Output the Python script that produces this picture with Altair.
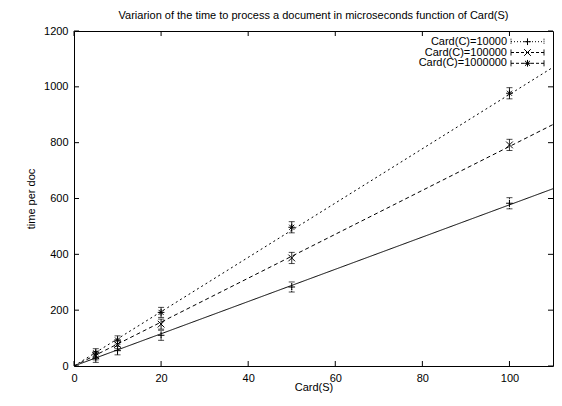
import altair as alt
import pandas as pd

# ---- data ----
series = ["Card(C)=10000", "Card(C)=100000", "Card(C)=1000000"]
card_s = [5, 10, 20, 50, 100]
time_10000 = [28, 55, 110, 283, 583]
time_100000 = [37, 77, 150, 387, 792]
time_1000000 = [47, 93, 192, 497, 977]
err_10000 = [15, 15, 18, 18, 20]
err_100000 = [15, 15, 18, 20, 20]
err_1000000 = [15, 15, 18, 20, 20]
# fitted straight lines through the origin, value at x = 110
fit_x_end = 110
fit_at_end = [635, 865, 1070]
x_ticks = [0, 20, 40, 60, 80, 100]
y_ticks = [0, 200, 400, 600, 800, 1000, 1200]

W, H = 479, 335
FONT = "Liberation Sans"
FS = 11

values = [time_10000, time_100000, time_1000000]
errs = [err_10000, err_100000, err_1000000]
rows = []
for s, vals, es in zip(series, values, errs):
    for x, v, e in zip(card_s, vals, es):
        rows.append({"series": s, "x": x, "y": v, "lo": v - e, "hi": v + e})
pts = pd.DataFrame(rows)

fit_rows = []
for s, yend in zip(series, fit_at_end):
    fit_rows.append({"series": s, "x": 0, "y": 0})
    fit_rows.append({"series": s, "x": fit_x_end, "y": yend})
fits = pd.DataFrame(fit_rows)

xs = alt.Scale(domain=[0, 110], nice=False, zero=False)
ys = alt.Scale(domain=[0, 1200], nice=False, zero=False)

axis_common = dict(
    grid=False, ticks=False, tickSize=0, domain=False, format="d",
    labelFont=FONT, labelFontSize=FS, labelColor="black", labelPadding=6, labelFlush=False,
    titleFont=FONT, titleFontSize=FS, titleFontWeight="normal", titleColor="black",
)
XAX = alt.Axis(title="Card(S)", values=x_ticks, titlePadding=-2, **axis_common)
YAX = alt.Axis(title="time per doc", values=y_ticks, titlePadding=7, **axis_common)


def X(f):
    return alt.X(f, scale=xs, axis=XAX)


def Y(f):
    return alt.Y(f, scale=ys, axis=YAX)


shape_paths = {
    series[0]: "M-1,0L1,0M0,-1L0,1",
    series[1]: "M-1,-1L1,1M-1,1L1,-1",
    series[2]: "M-1,0L1,0M0,-1L0,1M-0.75,-0.75L0.75,0.75M-0.75,0.75L0.75,-0.75",
}
dashes = {series[0]: [1, 0], series[1]: [4, 3], series[2]: [2, 3]}
err_dash = {series[0]: [1, 1], series[1]: [1, 0], series[2]: [1, 0]}

layers = []
for s in series:
    d_fit = fits[fits.series == s]
    d_pts = pts[pts.series == s]
    layers.append(
        alt.Chart(d_fit).mark_line(color="black", strokeWidth=1, strokeDash=dashes[s], clip=True).encode(
            x=X("x:Q"), y=Y("y:Q"))
    )
    layers.append(
        alt.Chart(d_pts).mark_rule(color="black", strokeWidth=1, strokeDash=err_dash[s]).encode(
            x=X("x:Q"), y=Y("lo:Q"), y2="hi:Q")
    )
    for f in ["lo", "hi"]:
        layers.append(
            alt.Chart(d_pts).mark_tick(color="black", orient="horizontal", size=6, thickness=1, strokeDash=err_dash[s]).encode(
                x=X("x:Q"), y=Y(f + ":Q"))
        )
    layers.append(
        alt.Chart(d_pts).mark_point(shape=shape_paths[s], filled=False, color="black", size=45, strokeWidth=1, opacity=1).encode(
            x=X("x:Q"), y=Y("y:Q"))
    )

# inward ticks on all four sides (gnuplot style)
xt = pd.DataFrame({"x": x_ticks})
yt = pd.DataFrame({"y": y_ticks})
TL = 5
layers.append(alt.Chart(xt).mark_rule(color="black").encode(
    x=X("x:Q"), y=alt.value(H), y2=alt.value(H - TL)))
layers.append(alt.Chart(xt).mark_rule(color="black").encode(
    x=X("x:Q"), y=alt.value(0), y2=alt.value(TL)))
layers.append(alt.Chart(yt).mark_rule(color="black").encode(
    y=Y("y:Q"), x=alt.value(0), x2=alt.value(TL)))
layers.append(alt.Chart(yt).mark_rule(color="black").encode(
    y=Y("y:Q"), x=alt.value(W), x2=alt.value(W - TL)))

# gnuplot-style legend (text right-aligned, sample on the right)
LX_TEXT = W - 46
LX0, LX1 = W - 42, W - 9
LXM = (LX0 + LX1) / 2
for i, s in enumerate(series):
    yy = 10.7 + 10.8 * i
    one = alt.Data(values=[{"label": s}])
    layers.append(alt.Chart(one).mark_text(align="right", baseline="middle", font=FONT, fontSize=FS, color="black").encode(
        text="label:N", x=alt.value(LX_TEXT), y=alt.value(yy)))
    layers.append(alt.Chart(one).mark_rule(color="black", strokeWidth=1, strokeDash=[1, 2] if i == 0 else [3, 2]).encode(
        x=alt.value(LX0), x2=alt.value(LX1), y=alt.value(yy)))
    for cx in (LX0, LX1):
        layers.append(alt.Chart(one).mark_rule(color="black", strokeWidth=1, strokeDash=[1, 1] if i == 0 else [1, 0]).encode(
            x=alt.value(cx), y=alt.value(yy - 3), y2=alt.value(yy + 3)))
    layers.append(alt.Chart(one).mark_point(shape=shape_paths[s], filled=False, color="black", size=45, strokeWidth=1, opacity=1).encode(
        x=alt.value(LXM), y=alt.value(yy)))

chart = alt.layer(*layers).properties(
    width=W,
    height=H,
    background="white",
    title=alt.TitleParams(
        "Variarion of the time to process a document in microseconds function of Card(S)",
        font=FONT, fontSize=FS, fontWeight="normal", color="black", offset=4, anchor="middle",
    ),
    autosize=alt.AutoSizeParams(type="none"),
    padding={"left": 66, "top": 23, "right": 1, "bottom": 32},
).configure_view(
    stroke="black", strokeWidth=1
)

chart.save("out.html", embed_options={"renderer": "svg", "actions": False})
